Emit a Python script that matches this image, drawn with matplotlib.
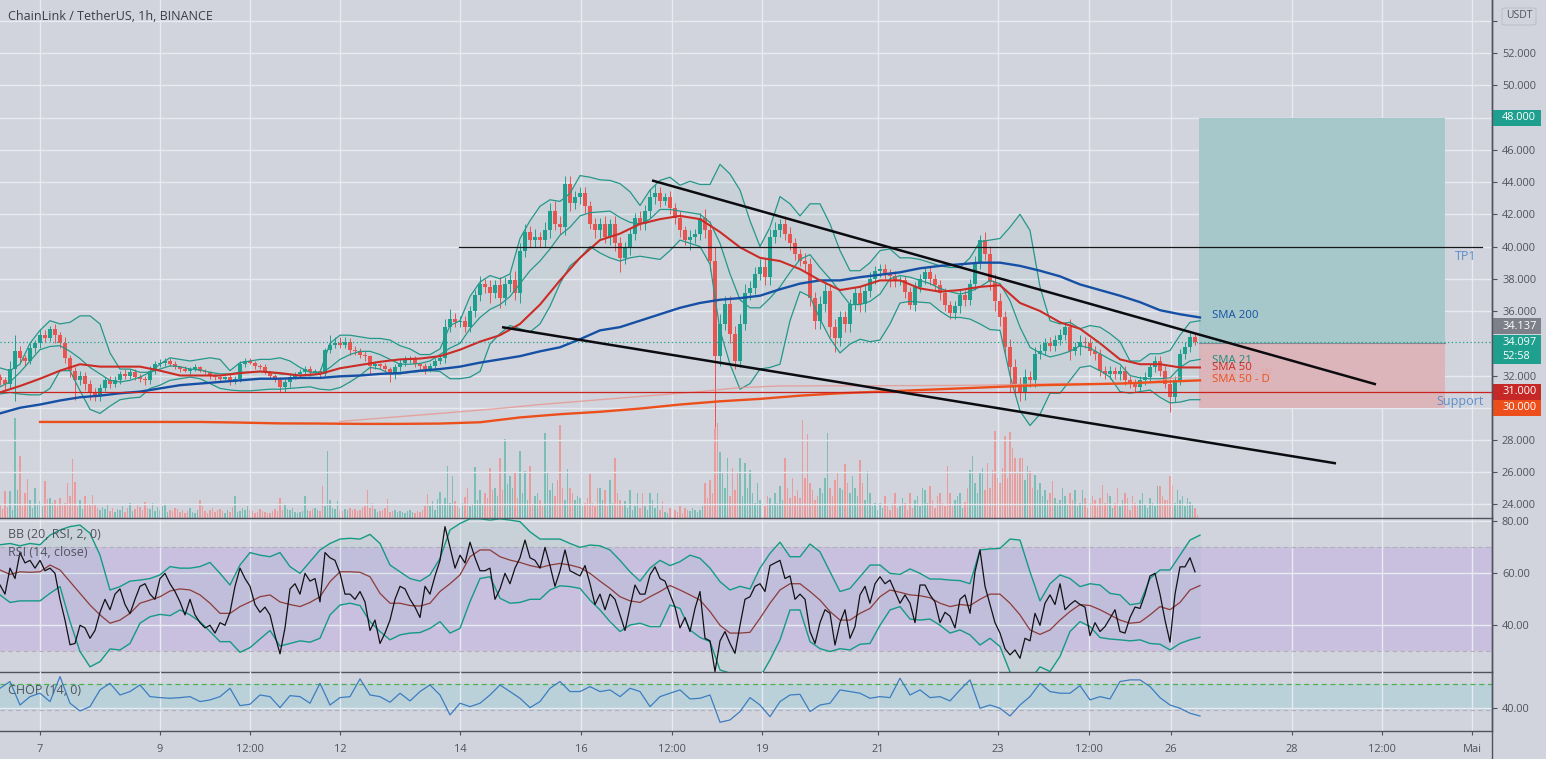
import numpy as np
import matplotlib
matplotlib.use('Agg')
import matplotlib.pyplot as plt
from matplotlib.lines import Line2D
from matplotlib.patches import Rectangle, FancyBboxPatch
from matplotlib.transforms import blended_transform_factory

# Data, x axis is in hours from the left edge of the chart
closes = [31.7,31.5,32.4,33.5,33.1,32.9,33.7,34.0,34.5,34.35,34.9,34.5,34.0,33.1,32.3,31.7,32.0,31.5,30.9,30.7,
          31.25,31.7,31.5,31.7,32.1,32.0,32.2,31.9,31.8,31.7,32.3,32.7,32.8,32.9,32.7,32.5,32.4,32.3,32.4,32.5,
          32.3,32.2,32.0,31.9,31.8,31.9,31.6,31.8,32.7,32.9,32.8,32.6,32.5,32.2,32.0,31.7,31.3,31.6,31.9,32.1,
          32.2,32.4,32.2,32.3,32.1,33.6,33.9,34.0,33.9,34.1,33.6,33.5,33.3,33.2,32.6,32.7,32.6,32.4,32.1,32.5,
          32.8,33.0,33.0,32.7,32.6,32.4,32.6,32.9,33.1,35.0,35.5,35.3,35.4,35.0,36.0,37.0,37.7,37.5,37.1,37.6,
          36.8,37.7,37.9,37.1,39.75,40.9,40.4,40.6,40.4,41.0,42.2,41.4,41.2,43.9,42.7,43.05,43.3,42.5,41.4,41.0,
          41.4,40.6,41.4,40.2,39.3,39.9,40.8,41.8,41.4,42.2,43.05,43.3,42.85,43.05,42.4,41.8,41.0,40.4,40.6,40.8,
          41.8,41.0,39.1,33.2,35.2,36.45,34.6,32.9,35.2,37.1,37.45,38.3,38.7,38.1,40.6,41.0,41.4,40.8,40.2,39.55,
          39.1,38.9,36.8,35.4,36.45,37.25,35.0,34.35,35.6,35.2,36.45,37.1,36.45,37.25,38.0,38.5,38.6,38.3,38.2,37.9,
          37.9,37.2,36.4,37.5,38.0,38.4,38.0,37.6,37.1,36.4,35.9,36.3,37.0,36.7,37.7,39.0,40.4,39.55,37.8,36.6,
          35.6,33.75,32.5,31.5,30.9,31.9,31.7,33.35,33.55,34.0,33.85,34.2,34.5,35.0,33.55,33.75,34.1,34.0,33.55,33.35,
          32.3,32.1,32.3,32.1,32.3,31.7,31.5,31.3,31.7,31.9,32.5,32.9,32.3,31.5,30.65,31.7,33.35,33.75,34.4,34.1]
first_open = 31.9
wick_up = [.2,.2,.5,1.0,.3,.2,.3,.2,.4,.3,.2,.3,.2,.4,.2,.2,.3,.2,.2,.3,
           .2,.2,.3,.3,.2,.3,.2,.2,.2,.2,.3,.2,.2,.2,.2,.2,.1,.2,.1,.2,
           .1,.1,.1,.1,.1,.1,.2,.2,.2,.2,.2,.1,.1,.2,.1,.1,.2,.2,.2,.1,
           .2,.2,.2,.1,.1,.1,.6,.4,.4,.3,.2,.2,.2,.2,.1,.2,.1,.2,.1,.2,
           .2,.2,.2,.2,.1,.2,.2,.2,.1,.5,.6,.4,.3,.3,.3,.3,.5,.3,.4,.3,
           .5,.4,.4,.6,.5,.5,.4,.5,.3,.5,.5,.6,.5,.5,.5,.4,.4,.4,.3,.4,
           .4,.5,.3,.5,.4,.4,.3,.3,.4,.4,.5,.5,.4,.3,.4,.3,.4,.3,.4,.3,
           .3,.5,.6,.9,.6,.5,.5,.5,.6,.6,.4,.4,.5,.6,.5,.5,.3,.5,.4,.3,
           .3,.5,.4,.4,.5,.5,.4,.5,.4,.4,.3,.4,.4,.4,.4,.3,.3,.3,.3,.3,
           .3,.3,.3,.3,.3,.3,.4,.3,.3,.3,.2,.3,.3,.3,.3,.4,.3,.5,.5,.5,
           .5,.4,.5,.5,.4,.5,.4,.4,.4,.3,.4,.3,.4,.3,.5,.3,.4,.3,.3,.3,
           .3,.3,.3,.2,.3,.3,.3,.3,.3,.3,.3,.3,.3,.3,.3,.3,.3,.3,.3,.2]
wick_down = [.3,.4,.3,2.0,.3,.3,.2,.3,.3,.3,.2,.5,.3,.3,.4,1.2,.3,.4,.4,.3,
             .3,.2,.3,.2,.2,.2,.2,.2,.2,.3,.2,.2,.2,.2,.1,.1,.2,.1,.2,.1,
             .1,.1,.2,.2,.2,.1,.2,.1,.2,.2,.1,.2,.1,.1,.2,.1,.3,.3,.3,.1,
             .2,.1,.2,.1,.2,.1,.2,.2,.2,.2,.3,.2,.2,.3,.5,.2,.2,.2,.5,.3,
             .2,.2,.2,.2,.2,.3,.2,.2,.2,.3,.3,.3,.3,.3,.3,.4,.4,.4,.6,.3,
             .6,.4,.5,.4,.6,.4,.4,.4,.4,.4,.5,.4,.4,.5,.5,.4,.4,.4,.3,.5,
             .5,.4,.5,.5,.9,.4,.4,.4,.4,.4,.4,.4,.4,.3,.4,.4,.4,.3,.6,.4,
             .4,.5,.6,4.4,.6,.4,.6,.5,.4,.4,.4,.4,.4,.5,.5,.4,.4,.4,.4,.4,
             .3,.4,.5,.5,.5,.5,.6,.9,.5,.5,.5,.4,.5,.5,.4,.3,.4,.3,.7,.4,
             .3,.4,.3,.4,.3,.3,.4,.3,.4,.4,.4,.4,.4,.4,.3,.4,.4,.4,.5,.6,
             .5,.5,1.5,.8,.5,.4,.4,.4,.3,.3,.3,.3,.3,.3,.6,.3,.5,.3,.3,.4,
             .3,.3,.3,.3,.4,.3,.3,.3,.3,.3,.3,.3,.3,.3,.9,.3,.3,.3,.3,.2]
volumes = [14,9,27,11,27,8,100,28,62,12,25,39,18,10,30,14,17,12,37,19,20,15,18,12,20,14,15,35,22,59,36,12,18,9,22,13,14,23,13,10,
           8,11,9,14,7,10,6,9,8,12,6,10,15,7,9,14,11,8,16,10,9,15,7,11,8,12,13,6,8,7,10,9,6,8,5,7,10,6,5,8,
           18,12,7,5,8,10,6,8,9,7,5,8,6,11,22,6,7,10,8,12,8,7,5,6,9,7,6,5,5,7,9,7,20,8,14,9,8,10,6,5,
           6,7,22,8,7,9,10,8,7,32,12,67,18,10,9,17,8,7,9,8,10,8,9,7,8,11,12,28,10,15,9,6,7,8,10,19,6,7,8,6,
           7,6,5,7,8,6,5,7,6,8,12,24,12,17,8,19,26,14,20,52,15,42,17,12,10,15,21,30,12,14,51,18,28,14,25,20,50,28,30,22,
           60,28,79,34,42,30,45,20,67,25,47,18,52,14,22,25,18,12,85,45,28,35,22,38,93,30,18,49,30,25,18,22,20,12,15,20,44,15,12,30,
           30,18,28,12,38,15,60,25,18,12,17,10,28,8,12,25,10,25,12,8,25,18,10,25,8,17,6,5,10,8,8,6,12,5,10,8,7,10,8,6,
           8,12,35,20,38,25,90,95,66,45,30,60,22,50,28,45,60,22,55,30,48,25,15,35,18,28,12,22,20,14,25,15,32,18,60,30,20,40,22,28,
           20,98,40,84,35,28,18,22,30,25,40,85,30,22,38,45,30,28,54,35,25,42,30,22,58,35,18,47,25,12,15,8,15,10,22,12,8,15,25,10,
           12,20,15,8,25,10,18,22,12,30,28,15,32,18,10,22,25,15,12,52,25,12,18,22,25,10,16,30,48,62,35,25,45,50,28,55,30,48,87,40,
           35,50,82,40,86,70,60,45,60,60,38,52,47,30,43,28,35,22,28,18,25,37,20,15,18,30,22,14,25,18,28,12,15,28,20,10,15,22,18,12,
           20,33,15,25,22,10,15,30,12,18,25,20,8,22,15,12,18,25,14,10,20,15,12,32,32,22,18,18,42,33,15,28,18,22,12,20,16,14,10,3]

# Bollinger bands on price, one value every 4 hours
bb_upper = [32.47,32.3,32.7,34,34.8,35.4,35.2,35.3,35.7,35.7,
            35.2,33.4,32.4,32.4,32.2,32.2,32.7,33.1,33,32.9,
            33,33.1,33,32.3,32.8,32.9,33,33,33.1,32.9,
            32.5,32.2,32.2,34,34.5,34.5,34.4,34.3,34.3,34.2,
            33.85,33.65,33.3,33.3,33.65,35.1,35.4,36.9,37.8,38.2,
            38,38.3,40.5,41.6,42.5,42.9,42.8,43.3,44.4,44.3,
            44.14,44.1,43.9,43.4,42.55,43.5,44.1,44.3,43.8,44.05,
            43.85,43.85,45.1,44.5,43.5,41.6,40,41.2,43.1,42.65,
            41.9,42.65,42.65,41.4,39.75,38.5,38.5,39,39.75,39.85,
            39.3,39.3,39.2,39,38.8,38.7,38.7,39.3,40.3,40.4,
            40.5,41.2,42,41,37.5,35.4,35.2,35.3,34.9,35.1,
            35,34.6,34.1,32.9,32.9,33.35,33.35,33.55,34.5,35.3,35.4]
bb_lower = [30.85,30.95,30.85,30.8,30.8,31.2,32.3,32.3,31.05,29.9,
            29.65,30.1,30.5,30.6,30.65,31.2,31.4,31.7,31.8,31.9,
            31.8,31.5,31.2,31.1,31.05,31.05,31.1,31.15,31.15,31.2,
            31.25,31.3,31.15,31.1,31.25,31.6,32,32.5,32.4,32.1,
            32.1,32.2,32.25,32.3,32.25,31.8,31.8,31.9,32.25,33.95,
            34.6,35.1,34.9,34.7,35.2,36.3,37.7,38.8,39.3,40,
            39.6,39.3,39.1,39.3,39.4,39.3,39.2,39.75,40.4,40.2,
            40,38.9,34.8,32.7,31.15,31.5,32.4,32.5,32.7,35.4,
            37.2,36.9,35.5,34.3,33.4,33.95,34.25,34.1,34.2,35.2,
            36.5,36.6,36.55,36.5,36,35.6,35.6,35.5,35.2,34.85,
            34.8,32,29.8,28.9,29.6,30.9,30.9,31.7,32.5,32.6,
            32.3,31.9,31,30.9,31,31.1,30.65,30.3,30.35,30.5,30.5]
bb_basis = [31.3,31.6,32.2,32.9,33.6,33.8,33.85,33.5,33.05,32.5,
            32.1,31.7,31.6,31.7,31.9,32.2,32.4,32.6,32.55,32.4,
            32.35,32.2,32.1,32.1,32.2,32.2,32.25,32.2,32.1,32.05,
            32,32,32.1,32.5,33,33.3,33.5,33.5,33.3,33.0,
            32.7,32.7,32.75,32.9,33.3,33.7,34,34.9,35.6,36.1,
            36.4,36.9,37.7,38.5,39.1,39.85,40.7,41.2,41.9,42.1,
            42.15,42.2,41.8,41.5,41.4,41.7,42.3,42.3,42.2,42.1,
            42,41.5,40.2,38.3,36.7,36.2,36.2,36.8,37.5,38.4,
            39.2,39.5,38.7,38,37.2,36.4,36.4,36.6,37.05,38,
            38.2,38.1,37.9,37.7,37.4,37.2,37.05,37.2,37.5,37.9,
            37.7,36.65,35,33.75,33.4,33.15,33.3,33.5,33.85,33.7,
            33.35,33,32.7,32,31.85,31.8,31.8,31.85,32.5,32.9,33]

# Moving averages, one value every 8 hours
sma50 = [30.95,31.35,31.8,32.3,32.7,32.55,32.55,32.55,32.3,32.0,32.0,32.0,32.15,32.25,32.15,32.0,32.1,32.45,32.65,32.85,
         33,33.05,33.2,33.6,34.1,34.5,35.2,36.4,37.9,39.3,40.4,40.8,41.4,41.7,41.9,41.7,40.9,39.95,39.3,39.1,
         38.6,37.9,37.3,37.5,37.9,37.9,37.4,37.2,37.3,37.5,37.6,36.5,36,35.3,34.9,34,33.0,32.7,32.7,32.5,32.5]
sma200 = [29.65,30.0,30.2,30.45,30.65,30.75,30.9,31,31.2,31.4,31.5,31.6,31.7,31.8,31.8,31.85,31.85,31.95,32,32.1,
          32.15,32.3,32.4,32.55,32.8,33,33.2,33.5,33.75,34.25,34.8,35,35.4,35.8,36.2,36.5,36.7,36.8,36.95,37.35,
          37.7,37.9,37.9,38.1,38.25,38.4,38.65,38.8,38.9,39,39,38.8,38.5,38.15,37.65,37.3,36.95,36.55,36.05,35.8,35.6]
# Daily and weekly averages, one value every 16 hours from their own start
sma50d_start = 16
sma50d = [29.12,29.12,29.12,29.12,29.12,29.08,29.03,29.02,29.0,29.0,29.02,29.1,29.4,29.6,29.75,
          29.95,30.2,30.4,30.55,30.75,30.9,31,31.1,31.2,31.3,31.4,31.45,31.5,31.6,31.7]
sma50w_start = 136
sma50w = [29.15,29.35,29.55,29.75,29.96,30.2,30.4,30.6,30.8,31.0,31.25,31.35,31.36,31.36,31.37,
          31.38,31.4,31.45,31.5,31.5,31.5,31.9]

# RSI pane
rsi = [55.5,52,62,58,68,64,65,62,65,61,62,60,50,42,32.5,33,40,39,35,38,
       45,50,46,52,54,48,44.5,50,55,56,52,50,58,60,56,53,49,44,50,44,
       41,39,40,37,41,40,45,55,62,58,55,48,45,47,44,36,29,39,54,56,
       52,60,57,58,49,68,66,65,60,52,52,50,53,49,38,42,33,37,42,50,
       55,54,50,47,43,55,52,59,65,78,70,62,67,64,72,66,61,61,62,50,
       54,60,56,62,66,72.8,66,65,62,70,63,55,61,69,61,60,59,63,56,48,
       52,46,52,50,44,38,47,55.5,52,52,59.4,62.5,58,57,52,47,39,43,37.6,46.5,
       53,35,34,22.2,34,37.6,33,29.2,40,50,51,55,56,53,63,64,65,58,59,50,
       52,50,37.6,33,41,46,44.6,32.4,41,46,35,39.5,51.7,55,48.5,56,58.7,56,57.4,53,
       48.5,51.7,48.5,41,55.5,55.5,51.7,49,41,45,43.5,39,50,51.7,44.6,60.6,69,55,48,41,
       37,31,28.6,30.5,27.3,35,34,44.6,40,48.5,51.7,48,56,46,48,49.5,48,47,36,41,
       37.6,39.5,42.7,46,37.6,37,43,47,46.5,52,59,60,52,42,33.5,52,62.5,62.5,66,60.6]
rsi_upper = [71,71.5,70.6,71.5,71,74.7,76.7,78,78.6,75.4,
             67,53.6,54.9,57,57.4,58,59.4,62.6,62,62,
             62.6,64.2,60,55.5,63.2,68,67,66.4,68,62.6,
             60,64.5,69,71.5,73.2,73.5,73.2,75,71.5,63.2,
             60.6,58,57,59.4,65.8,76.7,79.2,81,81,80.5,
             81,80.5,79.9,76,73.2,73.2,73.2,71.5,70,70.9,
             70.6,69,65,60.6,57,62,65,63,64.5,67,
             65.8,62,56.8,53.6,55,54,62,67.7,72,66.4,
             66.4,71.3,68.3,60.6,53,54.2,58.7,63.2,63.2,60,
             59.6,61.7,60,57.8,57.8,57.4,57.2,56,69,69.4,
             69.6,73.2,72.8,60.6,49.4,56,59.4,58,54.9,56,
             55.5,52.3,51.7,47.9,48.5,58,61.3,61.3,67,72.8,74.7]
rsi_lower = [51.7,48.8,49.4,49.4,49.4,52.3,54.9,41.4,29.9,24,
             26,30.9,30.5,33,40.8,43.3,44.2,43.7,45.9,44,
             41.4,37.6,33.7,33.7,29.6,31.4,34.7,38,32,33,
             34,33.5,35,44,47.8,48.5,47.6,41.4,37.6,34.4,
             36.3,37,37.2,38.8,41.4,37,38.8,49.1,58,58.7,
             50.4,48.5,48.8,50,50,53.6,55.2,54.9,54.2,49.7,
             45.9,41.4,37.6,40.1,40.8,39.5,39.5,47.8,46.5,38.2,
             35.3,33.7,22.8,21.6,20,19,20,26.7,34.4,45.9,
             45.9,33.7,31,29.9,31,30.5,32.7,33,40,45.9,
             47.2,42.4,42,42.4,40,37,38.2,36.3,32.4,35,
             31.8,22,19,19,24,22.2,28,37.6,41.4,39.5,
             35.3,34.7,34.4,34,34.4,33,32.7,30.5,33,34.4,35.4]
rsi_ma = [61.3,59.6,60.6,60.4,60.6,63.2,61.3,56.8,52.3,47.8,
          44,40.8,42,44.6,48.5,49.7,51,53.2,54,53.6,
          51.7,48.5,44.6,44.6,47.2,49,51,51.7,49,48,
          47.2,48.8,51,56.8,60.6,60.6,60.4,58.7,52.3,48.5,
          48.5,47.6,47.4,48.5,53,56,59.4,66.4,69,69,
          66.4,65.1,64.2,63,62.2,63.2,63.8,63.2,62.2,60,
          57,54.2,51,49.4,48.8,51,53,55.3,53.6,51.7,
          49.7,45.3,40,37,37,37.3,42.7,48.5,53.6,56,
          56,53,49.7,45.3,42,42,44.6,46.5,51,53.6,
          52.7,51.7,51.4,50.6,48.5,47.2,48,47.6,50,52,
          52,48.5,44,38.2,36.5,38.2,42,45.3,48,47.6,
          46,44,42,40.8,41.2,44,47.2,46,48.8,53.6,55.3]

# CHOP pane
chop = [58.2,64.3,43,50.6,53.7,46.1,68.8,44.6,37.6,41.5,
        56.7,62.7,52.1,55.2,61.2,50.6,49.7,49.1,49.7,50.6,
        46.1,47.6,50.6,58.2,42.4,43.7,52.1,50.6,40.6,51.5,
        50.6,44.6,62.7,43,49.7,50.6,66.7,52.1,50.6,45.5,
        53.7,46.7,55.2,61.2,52.1,34,44.6,41.5,44.6,52.1,
        61.2,55.2,49.1,40.6,46.1,58.2,64.3,55.2,55.2,59.7,
        55.2,56.7,50.6,58.2,55.2,41.5,50.6,53.7,56.7,48.5,
        49.1,52.1,27.3,29.4,37,49.7,43,32.4,46.1,52.1,
        52.7,37,43,44.6,56.7,55.2,53.7,49.1,50.6,49.7,
        67.3,52.1,56.7,49.7,50.6,46.7,56.7,65.8,40,43,
        40,33,43,50.6,62.7,55.2,53.7,53.7,60.6,47.6,
        50.6,48.5,64.3,65.8,65.8,59.7,49.7,43,40,35.5,33]

# Axis ticks and drawings
time_ticks = [16,64,100,136,184,232.4,268.8,304.8,351.2,399.2,435.6,468.4,516.8,552.8,588.8]
time_labels = ['7','9','12:00','12','14','16','12:00','19','21','23','12:00','26','28','12:00','Mai']
price_ticks = [24,26,28,30,32,36,38,40,42,44,46,48,50,52,54]
upper_trend_x = [260.8,550.4]
upper_trend_y = [44.1,31.45]
lower_trend_x = [200.8,534.4]
lower_trend_y = [35.0,26.55]
tp1_x = [183.6,592.8]
entry_price = 34.0
target_price = 48.0
stop_price = 30.0
position_x = [479.6,578.0]
support_price = 31.0
tp1_price = 40.0
last_price = 34.097

W, H = 1546, 759
BG = '#d1d4dc'
GRID = '#e7eaf1'
FRAME = '#50535e'
TXT = '#50535e'
UP = '#1fa08f'
DOWN = '#e8544f'
FONT = 'Open Sans'
FS = 7.9

plt.rcParams['font.family'] = [FONT, 'DejaVu Sans']
fig = plt.figure(figsize=(W / 100, H / 100), dpi=100, facecolor=BG)


def pane(top, bottom, ylim, yticks, fmt):
    ax = fig.add_axes([0, 1 - bottom / H, 1492 / W, (bottom - top) / H])
    ax.set_xlim(0, 1492 / 2.5)
    ax.set_ylim(*ylim)
    ax.set_facecolor('none')
    for side in ['left', 'top']:
        ax.spines[side].set_visible(False)
    for side in ['right', 'bottom']:
        ax.spines[side].set_color(FRAME)
        ax.spines[side].set_linewidth(1.0)
    ax.yaxis.tick_right()
    ax.set_yticks(yticks)
    ax.set_yticklabels([fmt % t for t in yticks])
    ax.tick_params(axis='y', length=3.6, width=0.8, color=FRAME, labelcolor=TXT, labelsize=FS, pad=3.6)
    ax.set_xticks(time_ticks)
    ax.set_xticklabels([])
    ax.tick_params(axis='x', length=0)
    ax.grid(True, color=GRID, linewidth=1.0, zorder=0)
    ax.set_axisbelow(True)
    for lab in ax.get_yticklabels():
        lab.set_horizontalalignment('left')
    return ax


main_lim = (24 - 13 / 16.1, 52 + 53 / 16.1)

# Volume sits below the price pane
ax_vol = fig.add_axes([0, 1 - 517.5 / H, 1492 / W, 517.5 / H], zorder=0)
ax_vol.set_xlim(0, 1492 / 2.5)
ax_vol.set_ylim(0, 517.5)
ax_vol.axis('off')

ax = pane(0, 517.5, main_lim, price_ticks, '%.3f')
ax.set_zorder(1)
ax_rsi = pane(517.5, 672.3, (21.9, 81.5), [40, 60, 80], '%.2f')
ax_chop = pane(672.3, 731.3, (19.1, 72.7), [40], '%.2f')

# Candles
closes_arr = np.array(closes)
opens = np.r_[first_open, closes_arr[:-1]]
highs = np.maximum(opens, closes_arr) + np.array(wick_up)
lows = np.minimum(opens, closes_arr) - np.array(wick_down)
candle_x = np.arange(len(closes)) * 2
rising = closes_arr >= opens
candle_cols = [UP if r else DOWN for r in rising]

vol_x = np.arange(len(volumes)) * 1.0
vol_cols = [('#7cbdb6' if rising[min(i // 2, len(rising) - 1)] else '#e89d9c') for i in range(len(volumes))]
ax_vol.bar(vol_x, volumes, width=0.5, color=vol_cols, linewidth=0)

# Position tool
ax.fill_between(position_x, entry_price, target_price, color='#a6c8ca', linewidth=0, zorder=1)
ax.fill_between(position_x, stop_price, entry_price, color='#dcb5ba', linewidth=0, zorder=1)
ax.plot(position_x, [entry_price, entry_price], color='#858a92', lw=0.8, zorder=1.5)

# Bollinger bands
bb_x = np.arange(len(bb_upper)) * 4
ax.fill_between(bb_x, bb_lower, bb_upper, color='#1a9b8a', alpha=0.045, linewidth=0, zorder=1.2)
ax.plot(bb_x, bb_upper, color='#25978a', lw=0.9, zorder=3)
ax.plot(bb_x, bb_lower, color='#25978a', lw=0.9, zorder=3)
ax.plot(bb_x, bb_basis, color='#25978a', lw=0.9, zorder=3)

ax.vlines(candle_x, lows, highs, colors=candle_cols, lw=0.7, zorder=2)
ax.bar(candle_x, closes_arr - opens, bottom=opens, width=1.25, color=candle_cols, linewidth=0, zorder=2.2)

# Moving averages
ma_x = np.arange(len(sma50)) * 8
ax.plot(np.arange(len(sma50w)) * 16 + sma50w_start, sma50w, color='#e9938c', lw=1.0, alpha=0.75, zorder=3)
ax.plot(np.arange(len(sma50d)) * 16 + sma50d_start, sma50d, color='#ec4f1c', lw=1.7, zorder=3.2)
ax.plot(ma_x, sma200, color='#1650a5', lw=1.7, zorder=3.4)
ax.plot(ma_x, sma50, color='#cb2c26', lw=1.5, zorder=3.4)

# Horizontal levels
ax.axhline(support_price, color='#cb2420', lw=0.9, zorder=3.5)
ax.plot(tp1_x, [tp1_price, tp1_price], color='#17181c', lw=0.9, zorder=3.5)
ax.axhline(last_price, color='#1fa08f', lw=0.9, ls=(0, (1, 2)), zorder=3.5)

# Wedge lines
ax.plot(upper_trend_x, upper_trend_y, color='#0b0b10', lw=1.8, zorder=4, solid_capstyle='butt')
ax.plot(lower_trend_x, lower_trend_y, color='#0b0b10', lw=1.8, zorder=4, solid_capstyle='butt')

# Drawing labels
x_lab = 1212 / 2.5
ax.text(x_lab, 35.71, 'SMA 200', color='#1650a5', fontsize=8.2, va='center', zorder=5)
ax.text(x_lab, 32.9, 'SMA 21', color='#1a8f80', fontsize=8.2, va='center', zorder=5)
ax.text(x_lab, 32.48, 'SMA 50', color='#cb2c26', fontsize=8.2, va='center', zorder=5)
ax.text(x_lab, 32.1, 'SMA 50 - W', color='#e9938c', fontsize=8.2, va='center', alpha=0.45, zorder=4.9)
ax.text(x_lab, 31.74, 'SMA 50 - D', color='#ec4f1c', fontsize=8.2, va='center', zorder=5)
ax.text(1466 / 2.5, 39.37, 'TP1', color='#5d8fc9', fontsize=9, ha='center', va='center', zorder=5)
ax.text(1460 / 2.5, 30.37, 'Support', color='#5d8fc9', fontsize=9, ha='center', va='center', zorder=5)

# Price tags on the right axis
tag_trans = blended_transform_factory(ax.transAxes, ax.transData)
tag_w = 49 / 1492
tags = [(48.0, '#1fa08f', '48.000'), (35.06, '#7d8089', '34.137'),
        (31.0, '#c62828', '31.000'), (30.0, '#ec4f1c', '30.000')]
for y_tag, col, lab in tags:
    half = 8.0 / 16.1
    ax.add_patch(Rectangle((1.0, y_tag - half), tag_w, 2 * half, transform=tag_trans, color=col,
                           clip_on=False, linewidth=0, zorder=6))
    ax.text(1 + 10 / 1492, y_tag, lab, transform=tag_trans, color='white', fontsize=FS, va='center', zorder=7, clip_on=False)
ax.add_patch(Rectangle((1.0, 32.73), tag_w, 29 / 16.1, transform=tag_trans, color='#1fa08f',
                       clip_on=False, linewidth=0, zorder=6))
ax.text(1 + 10 / 1492, 34.04, '34.097', transform=tag_trans, color='white', fontsize=FS, va='center', zorder=7, clip_on=False)
ax.text(1 + 10 / 1492, 33.17, '52:58', transform=tag_trans, color='white', fontsize=FS, va='center', zorder=7, clip_on=False)

# USDT box covers the top tick
fig.patches.append(FancyBboxPatch((1502 / W, 1 - 25 / H), 34 / W, 17 / H, boxstyle='round,pad=0,rounding_size=0.002',
                                  transform=fig.transFigure, facecolor=BG, edgecolor='#b8bac4', lw=0.6, zorder=10))
fig.text(1519 / W, 1 - 15 / H, 'USDT', color=TXT, fontsize=7.5, ha='center', va='center', zorder=11)

# Title and pane legends
fig.text(8 / W, 1 - 16 / H, 'ChainLink / TetherUS, 1h, BINANCE', color='#3a3d47', fontsize=9.0, va='center', zorder=11)
fig.text(8 / W, 1 - 535 / H, 'BB (20, RSI, 2, 0)', color=TXT, fontsize=9.0, va='center', zorder=11)
fig.text(8 / W, 1 - 552 / H, 'RSI (14, close)', color=TXT, fontsize=9.0, va='center', zorder=11)
fig.text(8 / W, 1 - 690 / H, 'CHOP (14, 0)', color=TXT, fontsize=9.0, va='center', zorder=11)

# RSI pane
rsi_x = np.arange(len(rsi)) * 2
band_x = np.arange(len(rsi_upper)) * 4
ax_rsi.axhspan(30, 70, color='#a970f0', alpha=0.2, linewidth=0, zorder=0.5)
ax_rsi.axhline(70, color='#b3afb8', lw=0.8, ls=(0, (4, 3)), zorder=1)
ax_rsi.axhline(30, color='#b3afb8', lw=0.8, ls=(0, (4, 3)), zorder=1)
ax_rsi.fill_between(band_x, rsi_lower, rsi_upper, color='#1a9b8a', alpha=0.05, linewidth=0, zorder=1)
ax_rsi.plot(band_x, rsi_upper, color='#159a85', lw=1.0, zorder=2)
ax_rsi.plot(band_x, rsi_lower, color='#159a85', lw=1.0, zorder=2)
ax_rsi.plot(band_x, rsi_ma, color='#8d3b3a', lw=0.9, zorder=2)
ax_rsi.plot(rsi_x, rsi, color='#111116', lw=0.9, zorder=3)

# CHOP pane
chop_x = np.arange(len(chop)) * 4
ax_chop.axhspan(38.2, 61.8, color='#60c6d6', alpha=0.2, linewidth=0, zorder=0.5)
ax_chop.axhline(61.8, color='#4caf50', lw=0.9, ls=(0, (4, 3)), zorder=1)
ax_chop.axhline(38.2, color='#b3afb8', lw=0.8, ls=(0, (4, 3)), zorder=1)
ax_chop.plot(chop_x, chop, color='#3c7dc0', lw=0.9, zorder=2)

# Time axis under the last pane
ax_chop.set_xticklabels(time_labels)
ax_chop.tick_params(axis='x', length=3, width=0.8, color=FRAME, labelcolor=TXT, labelsize=FS, pad=6)

# Right frame runs down to the bottom
fig.add_artist(Line2D([1492 / W, 1492 / W], [0, 1], color=FRAME, lw=1.0))

fig.savefig('out.png', dpi=100, facecolor=BG)
